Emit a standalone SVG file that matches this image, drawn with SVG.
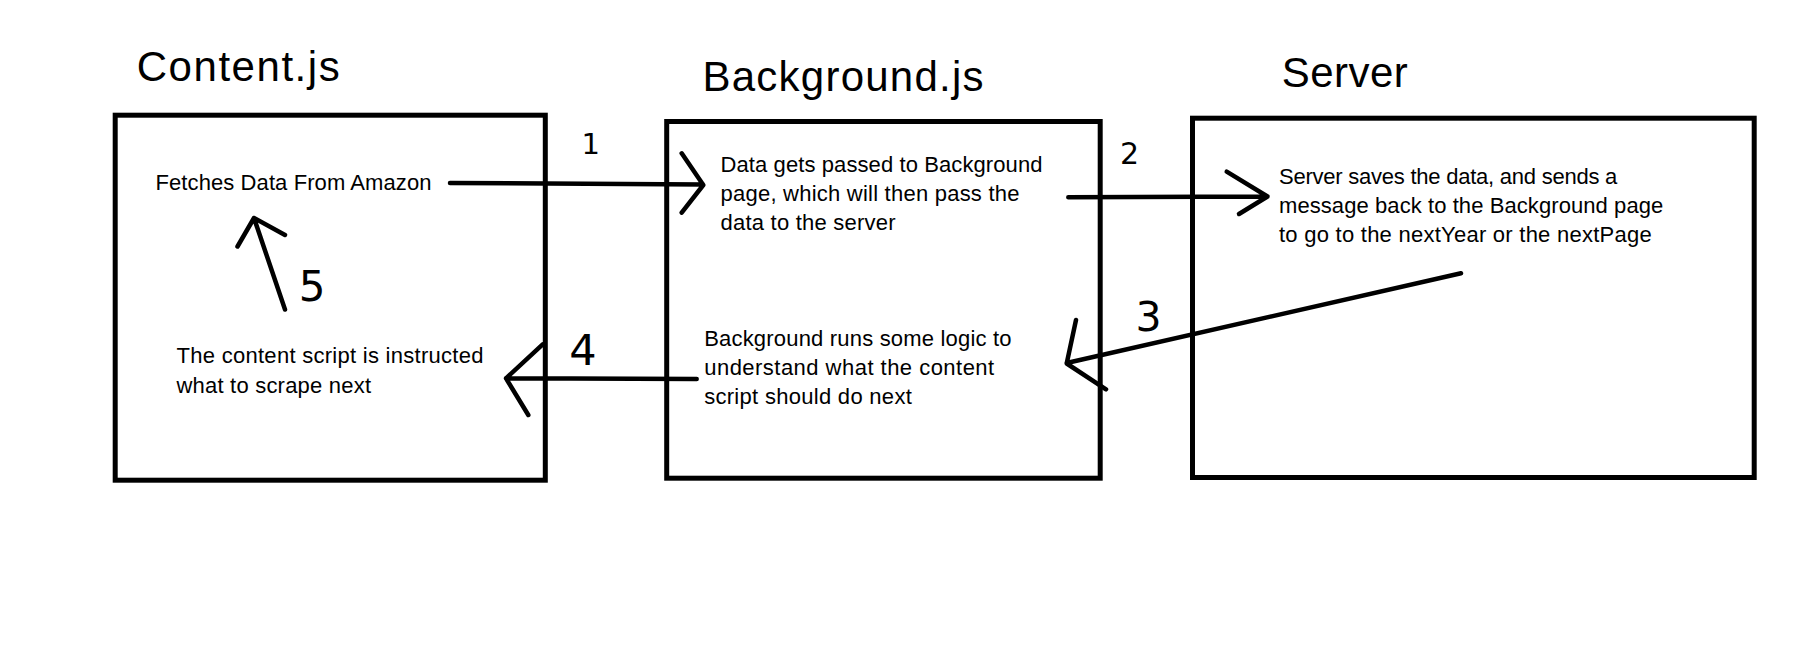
<svg xmlns="http://www.w3.org/2000/svg" width="1819" height="664" viewBox="0 0 1819 664">
<style>
.box{fill:none;stroke:#000;stroke-width:5}
.ln{fill:none;stroke:#000;stroke-width:4.5;stroke-linecap:round;stroke-linejoin:round}
.title{font-family:"Liberation Sans",Arial,sans-serif;font-size:42px;fill:#000}
.body{font-family:"Liberation Sans",Arial,sans-serif;font-size:22px;fill:#000}
.num{font-family:"DejaVu Sans","Liberation Sans",sans-serif;fill:#000;text-anchor:middle}
</style>
<rect width="1819" height="664" fill="#fff"/>
<g id="content">
<rect class="box" x="115.2" y="115.2" width="430.1" height="365"/>
<text class="title" x="136.7" y="81" textLength="203">Content.js</text>
<text class="body" x="155.5" y="190" textLength="276">Fetches Data From Amazon</text>
<text class="body" x="176.5" y="363.3" textLength="307">The content script is instructed</text>
<text class="body" x="176.5" y="392.5" textLength="194.5">what to scrape next</text>
</g>
<g id="background">
<rect class="box" x="666.7" y="121.5" width="433.5" height="356.7"/>
<text class="title" x="702.5" y="90.7" textLength="281">Background.js</text>
<text class="body" x="720.5" y="171.7" textLength="322">Data gets passed to Background</text>
<text class="body" x="720.5" y="201" textLength="299">page, which will then pass the</text>
<text class="body" x="720.5" y="230" textLength="175">data to the server</text>
<text class="body" x="704.2" y="345.7" textLength="307.4">Background runs some logic to</text>
<text class="body" x="704.2" y="374.7" textLength="290">understand what the content</text>
<text class="body" x="704.2" y="403.7" textLength="207.6">script should do next</text>
</g>
<g id="server">
<rect class="box" x="1192.5" y="118.2" width="561.7" height="359.3"/>
<text class="title" x="1281.7" y="86.7" textLength="126">Server</text>
<text class="body" x="1279" y="184" textLength="338.3">Server saves the data, and sends a</text>
<text class="body" x="1279" y="213.3" textLength="384.3">message back to the Background page</text>
<text class="body" x="1279" y="242.3" textLength="372.7">to go to the nextYear or the nextPage</text>
</g>
<g id="connectors">
<g id="arrow1">
<path class="ln" d="M450,183 L703,184.5 M681.7,153.3 L703.3,185 L681.7,212.7"/>
<text class="num" x="590.8" y="154" font-size="29">1</text>
</g>
<g id="arrow2">
<path class="ln" d="M1068.3,197.3 L1267.5,196.5 M1226.7,171.7 L1267.5,196.5 L1239,214"/>
<text class="num" x="1129.5" y="164.3" font-size="30">2</text>
</g>
<g id="arrow3">
<path class="ln" d="M1461,273.3 L1066.7,363 M1076,320 L1066.7,363.5 L1106,389.3"/>
<text class="num" x="1148.5" y="331" font-size="41">3</text>
</g>
<g id="arrow4">
<path class="ln" d="M696.7,379 L506,378.3 M542.7,344.3 L506,378.3 L528.3,415"/>
<text class="num" x="583" y="365" font-size="43">4</text>
</g>
<g id="arrow5">
<path class="ln" d="M285,309.5 L254,218 M237.5,246.5 L254,218 L285,235"/>
<text class="num" x="312" y="300.7" font-size="42">5</text>
</g>
</g>
</svg>
